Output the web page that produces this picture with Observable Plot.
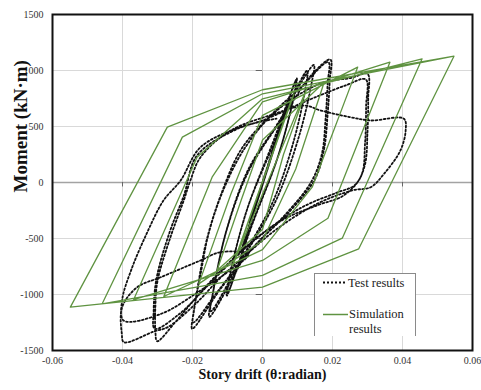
<!DOCTYPE html>
<html><head><meta charset="utf-8">
<script src="https://cdn.jsdelivr.net/npm/d3@7"></script>
<script src="https://cdn.jsdelivr.net/npm/@observablehq/plot@0.6"></script>
<style>
body{margin:0;background:#fff;}
#wrap{position:relative;width:481px;height:390px;font-family:"Liberation Serif","DejaVu Serif",serif;}
#legend{position:absolute;left:314px;top:273px;width:102px;height:63px;background:#fff;border:1px solid #8a8a8a;border-bottom:none;box-sizing:border-box;}
#legend svg{display:block;}
</style></head><body><div id="wrap"></div>
<script>
const xTicks = [-0.06, -0.04, -0.02, 0, 0.02, 0.04, 0.06];
const yTicks = [-1500, -1000, -500, 0, 500, 1000, 1500];
const legendLabels = ["Test results", "Simulation", "results"];
const xLabel = "Story drift (θ:radian)";
const yLabel = "Moment (kN·m)";

// Test results (dotted)
const testDrift = [0,0.0035,-0.0035,0.0037,-0.0037,0.006,-0.006,0.0062,-0.0062,
 0.0098,0.0088,0.0045,-0.003,-0.0102,-0.0093,-0.0045,0.003,
 0.0096,0.0086,0.0043,-0.003,-0.0100,-0.0091,-0.0043,0.003,
 0.009,0.0147,0.0140,0.0105,0.004,-0.005,-0.0152,-0.0143,-0.0105,-0.004,0.005,
 0.0128,0.0122,0.009,0.003,-0.006,-0.0148,-0.0140,-0.0102,-0.004,0.006,
 0.014,0.0194,0.0192,0.0186,0.0176,0.0150,0.008,-0.002,-0.012,-0.0201,-0.0196,-0.0182,-0.0160,-0.0120,-0.006,0.003,0.011,
 0.0188,0.0186,0.0180,0.0170,0.0140,0.007,-0.003,-0.013,-0.0198,-0.0193,-0.0177,-0.0155,-0.0115,-0.005,0.004,
 0.0166,0.0255,0.0300,0.0302,0.0300,0.0292,0.0265,0.0213,0.0140,0.0080,-0.0026,-0.0120,-0.0197,-0.0250,-0.0301,-0.0306,-0.0306,-0.0300,-0.0263,-0.0225,-0.0206,-0.0177,-0.0091,0.0061,0.0150,
 0.0240,0.0295,0.0296,0.0293,0.0282,0.0232,0.0160,0.0060,-0.0040,-0.0150,-0.0240,-0.0308,-0.0311,-0.0303,-0.0265,-0.0225,-0.0187,-0.0082,0.0000,
 0.0118,0.0166,0.0251,0.0309,0.0404,0.0409,0.0394,0.0347,0.0309,0.0256,0.0156,0.0042,-0.0044,-0.0120,-0.0190,-0.0270,-0.0310,-0.0396,-0.0402,-0.0401,-0.0358,-0.0291,-0.0177,-0.0120,-0.0040,
 -0.0100,-0.0177,-0.0290,-0.0397,-0.0401,-0.0375,-0.0330,-0.0283,-0.0234,-0.0177,-0.0063,0.0040];
const testMoment = [0,330,-340,350,-355,570,-610,590,-620,
 930,740,240,-370,-1010,-820,-250,360,
 910,720,220,-380,-990,-800,-230,330,
 780,1050,880,420,-150,-650,-1200,-1010,-450,120,560,
 1000,830,380,-170,-680,-1150,-960,-420,100,590,
 960,1098,900,600,300,30,-250,-560,-950,-1306,-1150,-875,-520,-120,300,620,850,
 1075,880,560,260,10,-270,-590,-980,-1250,-1090,-820,-470,-90,310,640,
 884,935,970,750,450,150,-20,-90,-180,-280,-518,-790,-1054,-1250,-1417,-1330,-1100,-880,-488,-161,18,226,464,643,760,
 870,920,680,350,60,-116,-200,-330,-560,-900,-1180,-1306,-1150,-860,-440,-120,241,464,554,
 687,643,583,554,569,464,286,77,-42,-71,-190,-413,-637,-850,-1080,-1290,-1330,-1426,-1350,-1113,-935,-846,-696,-622,-640,
 -800,-964,-1173,-1232,-1050,-780,-450,-161,18,315,494,570];

// Simulation results (green)
const simDrift = [0,0.0045,-0.0045,0.006,-0.006,0.0075,-0.0075,0.0085,-0.0083,0.009,-0.0086,
 0.0128,0.0060,0,-0.0130,-0.0060,0,
 0.0176,0.0095,0,-0.0182,-0.0090,0,
 0.0272,0.0142,0,-0.0282,-0.0144,0,
 0.0364,0.0187,0,-0.0368,-0.0187,0,
 0.0456,0.0228,0,-0.0458,-0.0229,0,
 0.0547,0.0275,0,-0.0549,-0.0272,0,0.0547];
const simMoment = [0,400,-390,540,-530,670,-650,760,-723,790,-745,
 850,250,-420,-786,-150,380,
 893,120,-520,-905,-100,600,
 1030,-42,-600,-1018,47,720,
 1074,-319,-696,-1045,226,747,
 1104,-497,-830,-1083,405,792,
 1128,-592,-935,-1113,494,828,1128];

const test = testDrift.map((x, i) => ({x, y: testMoment[i]}));
const sim = simDrift.map((x, i) => ({x, y: simMoment[i]}));
const fmt = d => (d === 0 ? "0" : String(d));
const serif = '"Liberation Serif", "DejaVu Serif", serif';

const chart = Plot.plot({
  width: 481, height: 390,
  marginLeft: 52, marginRight: 9, marginTop: 14, marginBottom: 40,
  style: {fontFamily: serif, fontSize: "10px", color: "#333", background: "#fff"},
  x: {domain: [-0.06, 0.06]},
  y: {domain: [-1500, 1500]},
  marks: [
    Plot.gridX(xTicks, {stroke: "#d9d9d9", strokeOpacity: 1}),
    Plot.gridY(yTicks, {stroke: "#d9d9d9", strokeOpacity: 1}),
    Plot.ruleY([0], {stroke: "#a3a3a3", strokeWidth: 1.3}),
    Plot.ruleX([0], {stroke: "#c4c4c4"}),
    Plot.ruleX(xTicks.slice(1, -1), {x: d => d, y1: 0, y2: -40, stroke: "#666"}),
    Plot.ruleY(yTicks.slice(1, -1), {y: d => d, x1: -0.0018, x2: 0, stroke: "#666"}),
    Plot.line(test, {x: "x", y: "y", curve: "catmull-rom", stroke: "#111", strokeWidth: 1.8, strokeDasharray: "1.8,2.2"}),
    Plot.line(sim, {x: "x", y: "y", stroke: "#5f9341", strokeWidth: 1.3}),
    Plot.axisX(xTicks, {tickSize: 0, tickPadding: 6, tickFormat: fmt, label: null}),
    Plot.axisY(yTicks, {tickSize: 0, tickPadding: 9, tickFormat: fmt, label: null}),
    Plot.frame({stroke: "#111", strokeWidth: 2}),
    Plot.text([yLabel], {text: d => d, frameAnchor: "left", rotate: -90, dx: -32, dy: 10, fontSize: 19, fontWeight: "bold", fill: "#111"}),
    Plot.text([xLabel], {text: d => d, frameAnchor: "bottom", dy: 28, fontSize: 14, fontWeight: "bold", fill: "#111"})
  ]
});
const wrap = document.getElementById("wrap");
wrap.appendChild(chart);

// Legend box inside the plot area
const legend = document.createElement("div");
legend.id = "legend";
legend.innerHTML = `<svg width="100" height="62" font-family='${serif}' font-size="12.5" fill="#222">
  <line x1="8" x2="32" y1="8.5" y2="8.5" stroke="#111" stroke-width="2" stroke-dasharray="2,2"/>
  <text x="33" y="8.5" dy="0.33em">${legendLabels[0]}</text>
  <line x1="8" x2="33" y1="40.5" y2="40.5" stroke="#5f9341" stroke-width="1.5"/>
  <text x="34" y="40" dy="0.33em">${legendLabels[1]}</text>
  <text x="34" y="54.5" dy="0.33em">${legendLabels[2]}</text>
</svg>`;
wrap.appendChild(legend);
</script>
</body></html>
